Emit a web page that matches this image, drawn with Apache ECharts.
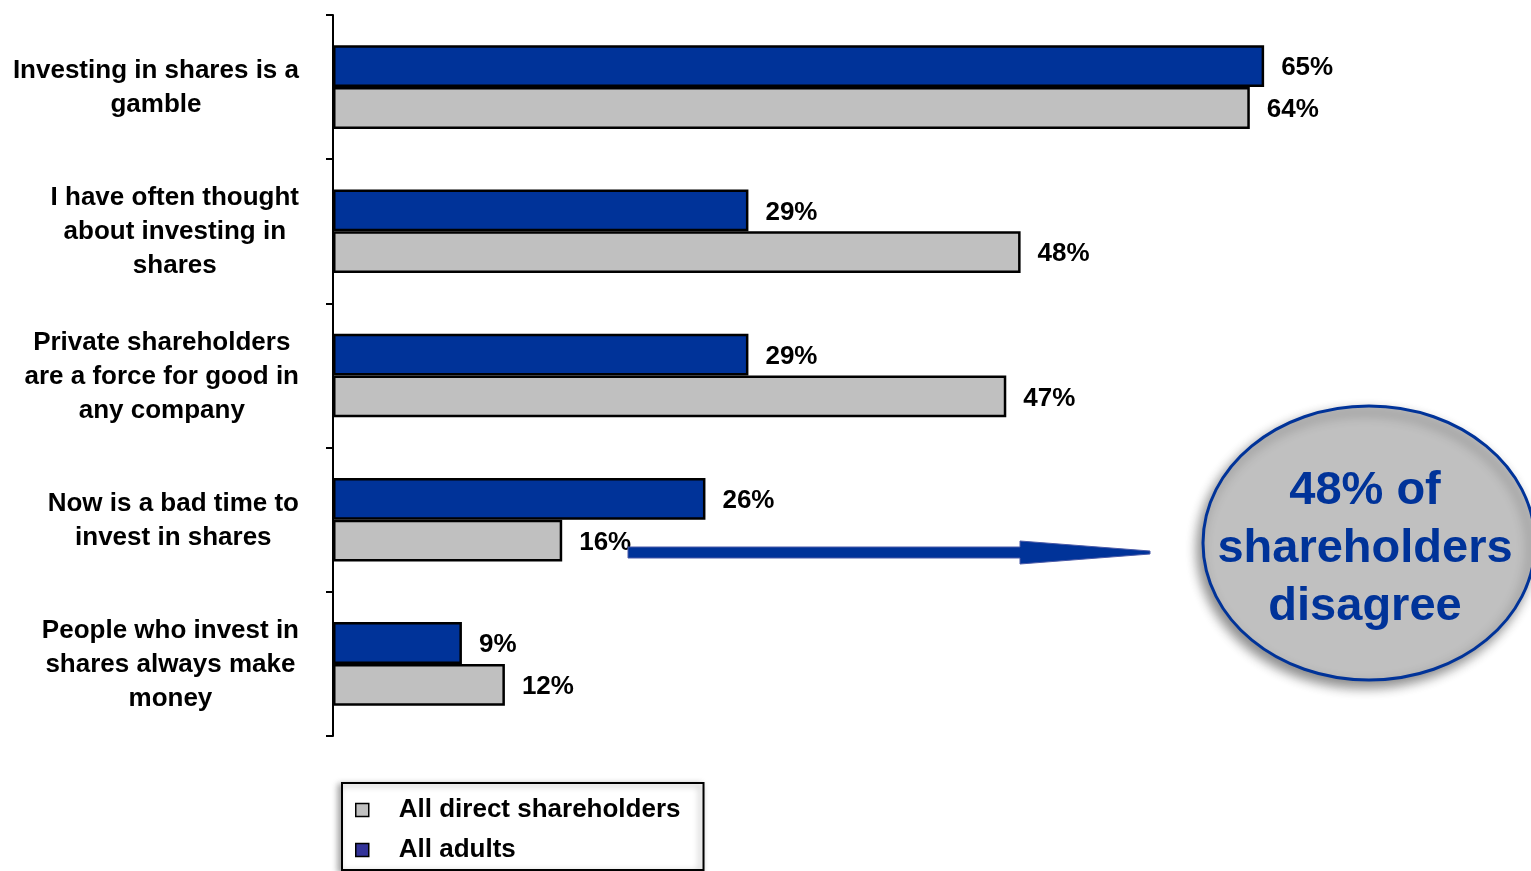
<!DOCTYPE html>
<html>
<head>
<meta charset="utf-8">
<script src="https://cdn.jsdelivr.net/npm/echarts@6/dist/echarts.min.js"></script>
<style>
html,body{margin:0;padding:0;background:#fff;}
#chart{width:1531px;height:871px;}
</style>
</head>
<body>
<div id="chart"></div>
<script>
var categories = [
  'Investing in shares is a\ngamble',
  'I have often thought\nabout investing in\nshares',
  'Private shareholders\nare a force for good in\nany company',
  'Now is a bad time to\ninvest in shares',
  'People who invest in\nshares always make\nmoney'
];
var allAdults = [65, 29, 29, 26, 9];
var directShareholders = [64, 48, 47, 16, 12];
var seriesNames = ['All direct shareholders', 'All adults'];
var calloutText = '48% of\nshareholders\ndisagree';

var FONT = '"Liberation Sans", Arial, sans-serif';
var chart = echarts.init(document.getElementById('chart'));

var valueLabel = {
  show: true, position: 'right', distance: 17, offset: [0, 2],
  formatter: '{c}%', color: '#000', fontSize: 26, fontWeight: 'bold', fontFamily: FONT
};

chart.setOption({
  backgroundColor: '#fff',
  animation: false,
  grid: { left: 333, right: 52, top: 15, bottom: 135 },
  xAxis: {
    type: 'value', min: 0, max: 80, show: false
  },
  yAxis: {
    type: 'category', inverse: true, data: categories,
    axisLine: { show: true, lineStyle: { color: '#000', width: 2 } },
    axisTick: { show: true, length: 7, lineStyle: { color: '#000', width: 2 } },
    axisLabel: {
      margin: 34, align: 'right',
      formatter: function (v) {
        return v.split('\n').map(function (l) { return '{c|' + l + '}'; }).join('\n');
      },
      rich: {
        c: { align: 'center', fontSize: 26, fontWeight: 'bold', color: '#000', fontFamily: FONT, lineHeight: 34, padding: [2, 0, 0, 0] }
      }
    }
  },
  legend: {
    orient: 'vertical', left: 342, top: 783,
    padding: [12, 23, 5, 13],
    itemWidth: 13, itemHeight: 13, itemGap: 10,
    backgroundColor: '#fff', borderColor: '#000', borderWidth: 2, borderRadius: 0,
    shadowBlur: 6, shadowColor: 'rgba(0,0,0,0.35)', shadowOffsetX: -3, shadowOffsetY: 2,
    selectedMode: false,
    textStyle: { fontSize: 26, fontWeight: 'bold', color: '#000', fontFamily: FONT, lineHeight: 30, padding: [0, 0, 0, 25] },
    data: [
      { name: seriesNames[0], icon: 'rect', itemStyle: { color: '#c0c0c0', borderColor: '#000', borderWidth: 1.5 } },
      { name: seriesNames[1], icon: 'rect', itemStyle: { color: '#333399', borderColor: '#000', borderWidth: 1.5 } }
    ]
  },
  series: [
    {
      name: seriesNames[1], type: 'bar', data: allAdults,
      barGap: '0%', barCategoryGap: '42%',
      itemStyle: { color: '#003399', borderColor: '#000', borderWidth: 2.5 },
      label: valueLabel
    },
    {
      name: seriesNames[0], type: 'bar', data: directShareholders,
      barGap: '0%', barCategoryGap: '42%',
      itemStyle: { color: '#c0c0c0', borderColor: '#000', borderWidth: 2.5 },
      label: valueLabel
    }
  ],
  graphic: [
    {
      type: 'polygon', z: 100,
      shape: { points: [[628, 547], [1020, 547], [1020, 541], [1150, 551], [1150, 554], [1020, 564], [1020, 558], [628, 558]] },
      style: { fill: '#003399', stroke: '#4a5aa8', lineWidth: 1 }
    },
    {
      type: 'ellipse', z: 100,
      shape: { cx: 1369, cy: 543, rx: 166, ry: 137 },
      style: { fill: '#c0c0c0', stroke: '#003399', lineWidth: 3, shadowBlur: 12, shadowColor: 'rgba(0,0,0,0.45)', shadowOffsetX: -4, shadowOffsetY: 6 }
    },
    {
      type: 'text', z: 101, x: 1365, y: 549,
      style: {
        text: calloutText, fill: '#003399', font: 'bold 47px ' + FONT,
        textAlign: 'center', textVerticalAlign: 'middle', lineHeight: 58
      }
    }
  ]
});
</script>
</body>
</html>
